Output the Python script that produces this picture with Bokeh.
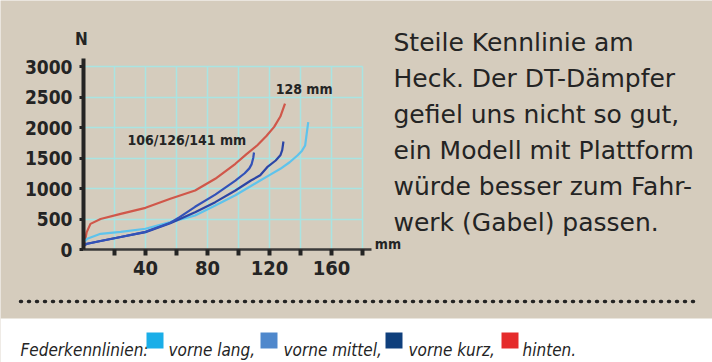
from bokeh.plotting import figure
from bokeh.models import Range1d, FixedTicker, Label, BoxAnnotation, Arrow
from bokeh.embed import file_html
from bokeh.resources import INLINE

# ---- data ----
x_hinten = [0, 1, 2, 4.5, 11, 24, 40, 56, 72, 85, 98, 105, 112, 118, 123, 127, 130]
n_hinten = [0, 150, 280, 420, 500, 585, 683, 831, 967, 1159, 1405, 1560, 1705, 1860, 2010, 2180, 2390]

x_kurz = [0, 2, 11, 24, 40, 56, 62, 72, 85, 98, 104, 107, 108.5, 109.5, 110]
n_kurz = [60, 90, 140, 205, 290, 440, 530, 700, 900, 1130, 1250, 1330, 1400, 1500, 1590]

x_mittel = [0, 2, 11, 24, 40, 56, 72, 85, 98, 108, 114, 118.5, 124, 127, 128.2, 129]
n_mittel = [60, 95, 140, 205, 285, 430, 612, 776, 967, 1131, 1216, 1349, 1459, 1545, 1630, 1770]

x_lang = [0, 2.4, 11, 24, 40, 56, 72, 85, 98, 108, 114, 120, 127, 133, 138, 141, 143, 144, 145]
n_lang = [110, 175, 257, 290, 340, 448, 557, 721, 890, 1040, 1131, 1220, 1323, 1430, 1541, 1620, 1705, 1900, 2087]

x_ticks = [20, 40, 60, 80, 100, 120, 140, 160, 180]
x_tick_labels = ["", "40", "", "80", "", "120", "", "160", ""]
y_ticks = [0, 500, 1000, 1500, 2000, 2500, 3000]
y_tick_labels = ["0", "500", "1000", "1500", "2000", "2500", "3000"]

curve_labels = ["128 mm", "106/126/141 mm"]
side_text = ["Steile Kennlinie am",
             "Heck. Der DT-Dämpfer",
             "gefiel uns nicht so gut,",
             "ein Modell mit Plattform",
             "würde besser zum Fahr-",
             "werk (Gabel) passen."]
legend_title = "Federkennlinien:"
legend_names = ["vorne lang,", "vorne mittel,", "vorne kurz,", "hinten."]
legend_colors = ["#1aaee8", "#4f88cc", "#0f3f7c", "#e52b2b"]

# ---- layout constants (pixels) ----
W, H = 712, 362
X0_PX, PX_PER_MM = 83, 1.55          # x = 0 at 83 px from left
Y0_PX, PX_PER_N = 113, 183 / 3000    # y = 0 at 113 px from bottom
legend_sq_left = [146, 260, 385, 501]
legend_txt_left = [168, 283, 408, 522]

BG = "#d5ccbd"
INK = "#242424"
GRID = "#a9e4e2"
COND = "DejaVu Sans Condensed"

x_start = -X0_PX / PX_PER_MM
y_start = -Y0_PX / PX_PER_N
p = figure(width=W, height=H,
           x_range=Range1d(x_start, x_start + W / PX_PER_MM),
           y_range=Range1d(y_start, y_start + H / PX_PER_N),
           output_backend="svg", toolbar_location=None,
           min_border_left=0, min_border_right=0, min_border_top=0, min_border_bottom=0,
           background_fill_color=BG, border_fill_color=BG, outline_line_color=None)

# bottom white strip
p.add_layout(BoxAnnotation(top=44, top_units="screen", fill_color="white", fill_alpha=1,
                           line_color=None, level="underlay"))

p.xaxis.fixed_location = 0
p.yaxis.fixed_location = 0
p.xaxis.bounds = (0, 186)
p.yaxis.bounds = (0, 3130)
p.xaxis.ticker = FixedTicker(ticks=x_ticks)
p.xaxis.major_label_overrides = {t: l for t, l in zip(x_ticks, x_tick_labels)}
p.yaxis.ticker = FixedTicker(ticks=y_ticks)
p.yaxis.major_label_overrides = {t: l for t, l in zip(y_ticks, y_tick_labels)}

p.xgrid.ticker = FixedTicker(ticks=x_ticks)
p.ygrid.ticker = FixedTicker(ticks=y_ticks[1:])
p.xgrid.bounds = (20, 180)
p.ygrid.bounds = (500, 3000)
p.xgrid.cross_bounds = (0, 3000)
p.ygrid.cross_bounds = (0, 180)
for g in (p.xgrid, p.ygrid):
    g.grid_line_color = GRID
    g.grid_line_width = 1.5

for ax in (p.xaxis, p.yaxis):
    ax.minor_tick_line_color = None
    ax.major_tick_in = 0
    ax.major_label_text_font = COND
    ax.major_label_text_font_style = "bold"
    ax.major_label_text_color = INK
    ax.major_tick_line_color = INK
    ax.axis_line_color = INK

p.xaxis.axis_line_color = "#3a3a3a"
p.xaxis.axis_line_width = 2.5
p.xaxis.major_tick_out = 6
p.xaxis.major_tick_line_width = 4
p.xaxis.major_label_text_font_size = "20px"
p.xaxis.major_label_standoff = 5

p.yaxis.axis_line_width = 4
p.yaxis.major_tick_out = 4
p.yaxis.major_tick_line_width = 3
p.yaxis.major_label_text_font_size = "19px"
p.yaxis.major_label_standoff = 7

p.line(x_hinten, n_hinten, line_color="#d0574a", line_width=2.2)
p.line(x_lang, n_lang, line_color="#5ec3ec", line_width=2.2)
p.line(x_mittel, n_mittel, line_color="#2b45a6", line_width=2.2)
p.line(x_kurz, n_kurz, line_color="#3352b8", line_width=2.2)

lab_kw = dict(text_font=COND, text_font_style="bold", text_color=INK, text_baseline="middle")
p.add_layout(Label(x=0, y=3000, x_offset=-2, y_offset=28, text="N", text_align="center",
                   text_font_size="17px", **lab_kw))
p.add_layout(Label(x=186, y=0, x_offset=3, y_offset=6, text="mm", text_font_size="14px", **lab_kw))
p.add_layout(Label(x=124, y=2630, text=curve_labels[0], text_font_size="14px", **lab_kw))
p.add_layout(Label(x=28.4, y=1787, text=curve_labels[1], text_font_size="14px", **lab_kw))

for i, line in enumerate(side_text):
    p.add_layout(Label(x=393, y=320 - 36 * i, x_units="screen", y_units="screen", text=line,
                       text_font="DejaVu Sans", text_font_size="25px", text_color=INK,
                       text_baseline="alphabetic"))

# dotted separator
p.add_layout(Arrow(start=None, end=None, x_start=20, y_start=61, x_end=700, y_end=61,
                   start_units="screen", end_units="screen", line_color=INK,
                   line_width=3.5, line_dash="1 7", line_cap="round"))

# legend strip
p.add_layout(Label(x=20, y=13, x_units="screen", y_units="screen", text=legend_title,
                   text_font=COND, text_font_style="italic", text_font_size="17px",
                   text_color=INK, text_baseline="alphabetic"))
for name, col, sx, tx in zip(legend_names, legend_colors, legend_sq_left, legend_txt_left):
    p.add_layout(BoxAnnotation(left=sx, right=sx + 17, bottom=14, top=30,
                               left_units="screen", right_units="screen",
                               bottom_units="screen", top_units="screen",
                               fill_color=col, fill_alpha=1, line_color=None))
    p.add_layout(Label(x=tx, y=13, x_units="screen", y_units="screen", text=name,
                       text_font=COND, text_font_style="italic", text_font_size="17px",
                       text_color=INK, text_baseline="alphabetic"))

open("out.html", "w").write(file_html(p, INLINE))
